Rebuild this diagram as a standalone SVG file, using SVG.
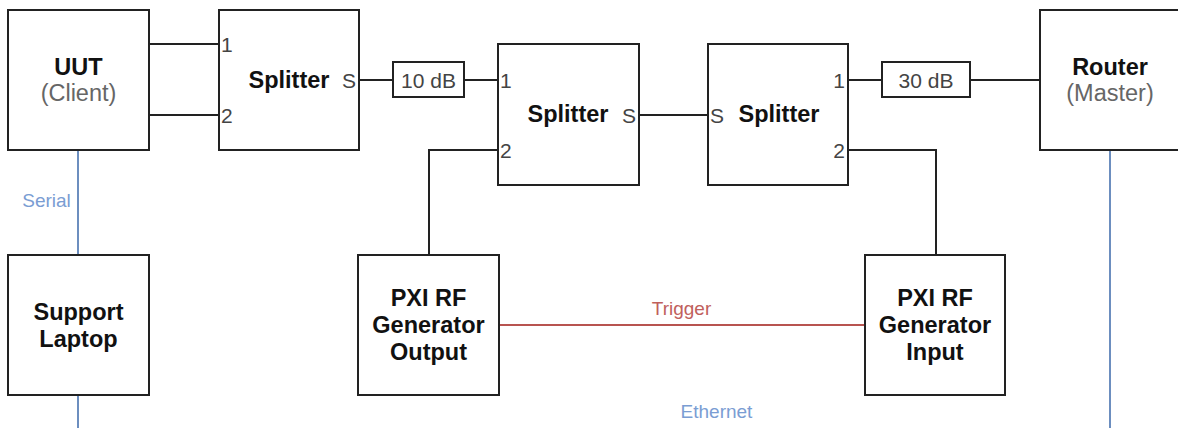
<svg xmlns="http://www.w3.org/2000/svg" width="1178" height="428" viewBox="0 0 1178 428">
<style>
.box{fill:#fff;stroke:#222;stroke-width:2}
.w{fill:none;stroke:#222;stroke-width:2}
.blue{fill:none;stroke:#6c8ebf;stroke-width:2}
.red{fill:none;stroke:#b85450;stroke-width:2}
text{font-family:"Liberation Sans",Arial,sans-serif}
.t{font-size:23.5px;font-weight:bold;fill:#111;text-anchor:middle}
.sub{font-size:23.5px;fill:#666;text-anchor:middle}
.p{font-size:21px;fill:#444}
.att{font-size:21px;fill:#444;text-anchor:middle}
.lb{font-size:19px;fill:#7a9dd3;text-anchor:middle}
.lr{font-size:19px;fill:#c0605c;text-anchor:middle}
</style>
<rect width="1178" height="428" fill="#fff"/>
<g id="connectors">
<path class="w" d="M149 44H219M149 115H219"/>
<path class="w" d="M359 80H393M464 80H498"/>
<path class="w" d="M498 150H429V255"/>
<path class="w" d="M639 115H708"/>
<path class="w" d="M848 80H882M970 80H1040"/>
<path class="w" d="M848 150H936V255"/>
<path class="blue" d="M78 150V255"/>
<path class="blue" d="M78 395V445H1110V150"/>
<path class="red" d="M499 325H865"/>
<text class="lb" x="46.5" y="207">Serial</text>
<text class="lr" x="681.5" y="315">Trigger</text>
<text class="lb" x="716.5" y="418">Ethernet</text>
</g>
<g id="uut">
<rect class="box" x="8" y="10" width="141" height="140"/>
<text class="t" x="78.5" y="75">UUT</text>
<text class="sub" x="78.5" y="101">(Client)</text>
</g>
<g id="splitter1">
<rect class="box" x="219" y="10" width="140" height="140"/>
<text class="t" x="289" y="88">Splitter</text>
<text class="p" x="221" y="52">1</text>
<text class="p" x="221" y="123">2</text>
<text class="p" x="356" y="88" text-anchor="end">S</text>
</g>
<g id="att10">
<rect class="box" x="393" y="62" width="71" height="35"/>
<text class="att" x="428.5" y="87.5">10 dB</text>
</g>
<g id="splitter2">
<rect class="box" x="498" y="44" width="141" height="141"/>
<text class="t" x="568" y="122">Splitter</text>
<text class="p" x="500" y="88">1</text>
<text class="p" x="500" y="158">2</text>
<text class="p" x="636" y="123" text-anchor="end">S</text>
</g>
<g id="splitter3">
<rect class="box" x="708" y="44" width="140" height="141"/>
<text class="t" x="779" y="122">Splitter</text>
<text class="p" x="710" y="123">S</text>
<text class="p" x="845" y="88" text-anchor="end">1</text>
<text class="p" x="845" y="158" text-anchor="end">2</text>
</g>
<g id="att30">
<rect class="box" x="882" y="62" width="88" height="35"/>
<text class="att" x="926" y="87.5">30 dB</text>
</g>
<g id="router">
<rect class="box" x="1040" y="10" width="140" height="140"/>
<text class="t" x="1110" y="75">Router</text>
<text class="sub" x="1110" y="101">(Master)</text>
</g>
<g id="laptop">
<rect class="box" x="8" y="255" width="141" height="140"/>
<text class="t" x="78.5" y="320">Support</text>
<text class="t" x="78.5" y="347">Laptop</text>
</g>
<g id="pxi-out">
<rect class="box" x="358" y="255" width="141" height="140"/>
<text class="t" x="428.5" y="306">PXI RF</text>
<text class="t" x="428.5" y="333">Generator</text>
<text class="t" x="428.5" y="360">Output</text>
</g>
<g id="pxi-in">
<rect class="box" x="865" y="255" width="140" height="140"/>
<text class="t" x="935" y="306">PXI RF</text>
<text class="t" x="935" y="333">Generator</text>
<text class="t" x="935" y="360">Input</text>
</g>
</svg>
